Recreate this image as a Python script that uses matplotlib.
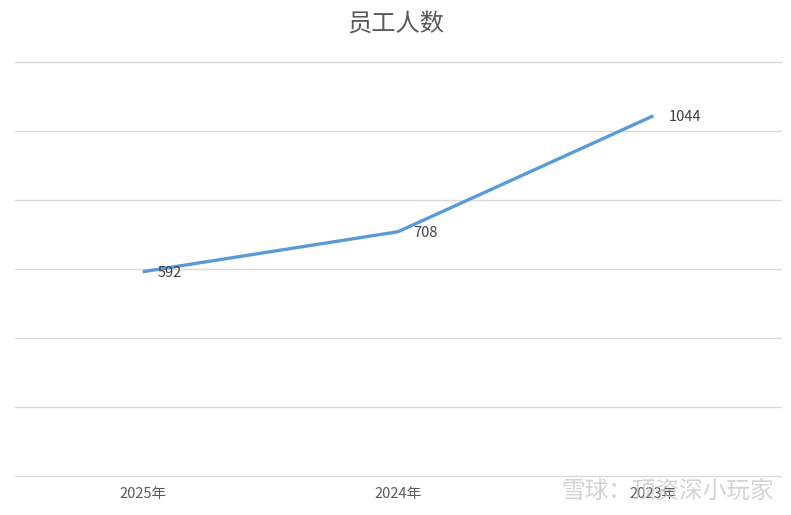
import matplotlib
matplotlib.use("Agg")
import matplotlib.pyplot as plt

plt.rcParams['font.family'] = ['Noto Sans CJK SC', 'DejaVu Sans']

categories = ["2025年", "2024年", "2023年"]
values = [592, 708, 1044]
title = "员工人数"
watermark = "雪球：顶资深小玩家"

fig = plt.figure(figsize=(7.91, 5.15), dpi=100)
ax = fig.add_axes([15/791, 38/515, 766/791, 415/515])

x = list(range(len(categories)))
ax.plot(x, values, color="#5B9BD5", linewidth=2.4, solid_capstyle="butt", zorder=3)
for xi, v in zip(x, values):
    ax.annotate(str(v), (xi, v), xytext=(11, -1), textcoords="offset points",
                ha="left", va="center", fontsize=10.5, color="#404040", zorder=4)

ax.set_xlim(-0.5, len(categories) - 0.5)
ax.set_ylim(-3, 1200)
ax.set_yticks(range(0, 1201, 200))
ax.set_yticklabels([])
ax.tick_params(axis="y", length=0)
ax.set_xticks(x)
ax.set_xticklabels(categories, fontsize=10.5, color="#595959")
ax.tick_params(axis="x", length=0, pad=7)
ax.grid(axis="y", color="#D9D9D9", linewidth=1)
ax.set_axisbelow(True)
for s in ax.spines.values():
    s.set_visible(False)
for gl in ax.get_ygridlines():
    gl.set_clip_on(False)

fig.text(0.5, 1 - 25/515, title, ha="center", va="center", fontsize=17.5, color="#595959")
fig.text(668/791, 1 - 492/515, watermark, ha="center", va="center", fontsize=17,
         color="#C8C8C8", alpha=0.8, zorder=0)

fig.savefig("out.png", dpi=100)
